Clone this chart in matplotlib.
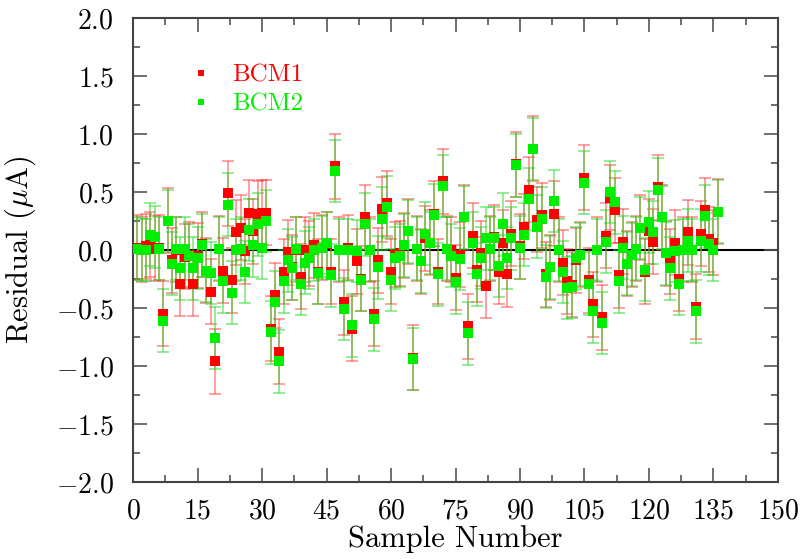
import matplotlib
matplotlib.use("Agg")
import matplotlib.pyplot as plt
from matplotlib.lines import Line2D
from matplotlib.ticker import MultipleLocator, FuncFormatter
import numpy as np

plt.rcParams['font.family'] = ['cmr10', 'DejaVu Serif']
plt.rcParams['mathtext.fontset'] = 'cm'
plt.rcParams['axes.formatter.use_mathtext'] = True

# residuals, sample 1..136
bcm1 = [0.02, 0.00, 0.03, 0.05, 0.01, 0.02, -0.55, 0.25, -0.09, 0.00,
        -0.29, -0.06, -0.04, -0.29, -0.05, 0.05, -0.18, -0.36, -0.96, 0.01,
        -0.18, 0.49, -0.26, 0.15, 0.19, -0.01, 0.32, 0.16, 0.31, 0.32,
        0.32, -0.68, -0.39, -0.88, -0.19, -0.02, -0.15, 0.00, -0.23, 0.00,
        -0.03, 0.04, -0.19, 0.02, 0.05, -0.19, 0.72, 0.00, -0.45, 0.02,
        -0.68, -0.10, -0.25, 0.28, 0.00, -0.55, -0.09, 0.35, 0.40, -0.19,
        -0.04, -0.03, 0.04, 0.16, -0.93, 0.01, -0.10, 0.10, 0.06, 0.31,
        -0.19, 0.59, 0.01, 0.00, -0.24, -0.04, 0.28, -0.66, 0.12, -0.17,
        -0.03, -0.31, 0.01, 0.11, -0.19, 0.06, -0.21, 0.14, 0.74, 0.03,
        0.20, 0.52, 0.87, 0.26, 0.30, -0.21, -0.15, 0.31, 0.00, -0.11,
        -0.27, -0.30, -0.09, -0.04, 0.62, -0.26, -0.47, 0.00, -0.58, 0.12,
        0.45, 0.34, -0.22, 0.07, -0.12, -0.04, 0.01, 0.19, -0.19, 0.16,
        0.07, 0.54, 0.28, -0.03, -0.10, 0.06, -0.25, 0.00, 0.15, 0.00,
        -0.49, 0.14, 0.34, 0.09, 0.06, 0.33]
bcm2 = [0.01, 0.00, 0.00, 0.13, 0.11, 0.01, -0.61, 0.25, -0.12, 0.01,
        -0.16, 0.01, -0.05, -0.16, -0.07, 0.04, -0.18, -0.20, -0.76, 0.01,
        -0.27, 0.39, -0.37, 0.00, 0.01, -0.19, 0.17, 0.04, 0.22, 0.02,
        0.25, -0.71, -0.45, -0.96, -0.27, -0.09, -0.16, 0.01, -0.29, -0.11,
        -0.07, 0.00, -0.20, 0.02, 0.06, -0.22, 0.68, 0.00, -0.51, 0.00,
        -0.65, -0.01, -0.26, 0.22, 0.00, -0.60, -0.15, 0.27, 0.37, -0.26,
        -0.07, -0.05, 0.04, 0.16, -0.94, 0.01, -0.10, 0.14, 0.06, 0.30,
        -0.21, 0.55, 0.01, -0.05, -0.28, -0.08, 0.28, -0.72, 0.06, -0.21,
        -0.07, 0.10, 0.01, 0.10, -0.14, 0.22, -0.07, 0.10, 0.73, 0.02,
        0.13, 0.44, 0.87, 0.20, 0.27, -0.23, -0.15, 0.42, 0.00, -0.19,
        -0.33, -0.32, -0.07, -0.04, 0.58, -0.29, -0.53, 0.00, -0.63, 0.07,
        0.50, 0.41, -0.27, 0.02, -0.12, -0.04, 0.01, 0.19, -0.17, 0.24,
        0.15, 0.52, 0.28, -0.03, -0.16, -0.01, -0.29, 0.00, 0.08, 0.00,
        -0.53, 0.08, 0.29, 0.05, 0.00, 0.33]
samples = np.arange(1, len(bcm1) + 1)
err1 = 0.28
err2 = 0.27

fig = plt.figure(figsize=(8.02, 5.59), dpi=100)
ax = fig.add_axes([0.166, 0.138, 0.804, 0.830])

ax.axhline(0, color='black', lw=1.5, zorder=1)

ax.errorbar(samples, bcm1, yerr=err1, fmt='none', ecolor=(1, 0.2, 0.2, 0.5),
            elinewidth=1.3, capsize=4, capthick=1.3, zorder=2)
ax.errorbar(samples, bcm2, yerr=err2, fmt='none', ecolor=(0.1, 0.85, 0.1, 0.5),
            elinewidth=1.3, capsize=4, capthick=1.3, zorder=2)
ax.plot(samples, bcm1, 's', color='#ff0000', ms=6.5, mew=0, zorder=3)
ax.plot(samples, bcm2, 's', color='#00ee00', ms=6.5, mew=0, zorder=4)

handles = [Line2D([], [], ls='none', marker='s', color='#ff0000', ms=5, mew=0),
           Line2D([], [], ls='none', marker='s', color='#00ee00', ms=5, mew=0)]
leg = ax.legend(handles, ['BCM1', 'BCM2'], loc='upper left',
                bbox_to_anchor=(0.096, 0.90), frameon=False, fontsize=18,
                borderpad=0, borderaxespad=0, handletextpad=1.0,
                labelspacing=0.25, handlelength=0.5)
for t, c in zip(leg.get_texts(), ['#ff0000', '#00ee00']):
    t.set_color(c)

ax.set_xlim(0, 150)
ax.set_ylim(-2, 2)
ax.xaxis.set_major_locator(MultipleLocator(15))
ax.xaxis.set_minor_locator(MultipleLocator(7.5))
ax.yaxis.set_major_locator(MultipleLocator(0.5))
ax.yaxis.set_minor_locator(MultipleLocator(0.25))
ax.yaxis.set_major_formatter(FuncFormatter(lambda v, p: r'$%.1f$' % v))
ax.tick_params(which='both', direction='in', top=True, right=True,
               labelsize=20, color='#555555', width=1.2)
ax.tick_params(which='major', length=10)
ax.tick_params(which='minor', length=5)
ax.tick_params(axis='x', which='major', pad=12)
ax.tick_params(axis='y', which='major', pad=14)
for s in ax.spines.values():
    s.set_color('#444444')
    s.set_linewidth(1.5)

ax.set_xlabel('Sample Number', fontsize=22, labelpad=0)
ax.set_ylabel(r'Residual ($\mu$A)', fontsize=22)
ax.yaxis.set_label_coords(-0.148, 0.5)

fig.savefig('out.png', dpi=100)
